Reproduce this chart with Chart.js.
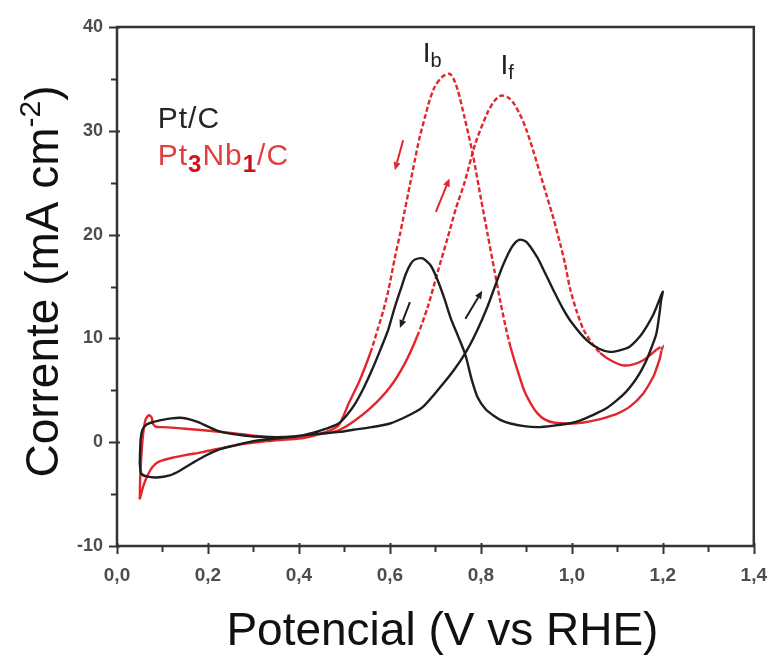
<!DOCTYPE html>
<html>
<head>
<meta charset="utf-8">
<script src="https://cdn.jsdelivr.net/npm/chart.js@4.4.1/dist/chart.umd.min.js"></script>
<style>
html,body{margin:0;padding:0;background:#fff;}
#wrap{width:777px;height:655px;}
</style>
</head>
<body>
<div id="wrap"><canvas id="c" width="777" height="655"></canvas></div>
<script>
// ---- data ----
const xTickLabels = ['0,0','0,2','0,4','0,6','0,8','1,0','1,2','1,4'];
const yTickLabels = ['-10','0','10','20','30','40'];
const seriesNames = ['Pt/C', 'Pt3Nb1/C'];

// Pt/C : potential (V vs RHE), forward then backward scan
const ptcPotential = [
 0.050,0.052,0.056,0.065,0.080,0.100,0.120,0.140,0.160,0.180,0.200,0.225,0.260,0.300,0.370,0.440,0.490,0.520,0.560,0.600,
 0.633,0.670,0.705,0.740,0.766,0.790,0.814,0.835,0.850,0.868,0.884,0.900,0.924,0.940,0.960,0.980,1.000,1.033,1.060,1.083,
 1.105,1.127,1.150,1.164,1.178,1.186,1.194,1.200,
 1.196,1.193,1.186,1.175,1.164,1.150,1.135,1.118,1.098,1.077,1.055,1.030,1.004,0.960,0.924,0.895,0.865,0.845,0.830,0.810,
 0.793,0.780,0.766,0.750,0.734,0.720,0.705,0.690,0.672,0.655,0.646,0.635,0.625,0.610,0.596,0.578,0.560,0.542,0.524,0.505,
 0.487,0.460,0.430,0.400,0.350,0.300,0.260,0.225,0.190,0.166,0.140,0.116,0.087,0.065,0.053,0.050];
const ptcCurrent = [
 -2.0,0.3,1.2,1.7,1.95,2.15,2.3,2.35,2.2,1.9,1.5,1.05,0.75,0.55,0.5,0.8,1.0,1.2,1.45,1.8,
 2.4,3.3,5.0,6.9,8.6,10.6,13.0,15.5,17.2,18.8,19.5,19.3,17.8,16.4,14.6,12.9,11.5,9.8,9.0,8.7,
 8.85,9.2,10.2,11.1,12.2,13.0,13.9,14.5,
 13.6,12.5,10.5,9.1,7.9,6.7,5.7,4.8,4.0,3.3,2.8,2.3,1.9,1.6,1.45,1.55,1.8,2.1,2.5,3.2,
 4.3,6.0,8.4,10.2,11.9,13.8,15.6,17.0,17.7,17.6,17.2,16.2,14.9,12.9,10.8,8.8,6.9,5.2,3.75,2.6,
 1.8,1.3,0.9,0.6,0.35,0.1,-0.3,-0.7,-1.4,-2.0,-2.7,-3.2,-3.4,-3.3,-3.0,-2.0];

// Pt3Nb1/C : potential (V vs RHE), forward then backward scan
const ptnbPotential = [
 0.050,0.051,0.054,0.058,0.063,0.070,0.076,0.079,0.085,0.100,0.120,0.150,0.190,0.260,0.330,0.400,0.450,0.487,0.520,0.560,
 0.600,0.633,0.660,0.683,0.705,0.727,0.745,0.764,0.788,0.814,0.830,0.845,0.860,0.873,0.890,0.900,0.915,0.930,0.945,0.960,
 0.975,0.985,0.996,1.010,1.026,1.045,1.062,1.085,1.113,1.135,1.157,1.175,1.186,1.194,1.200,
 1.197,1.193,1.186,1.179,1.157,1.127,1.100,1.076,1.050,1.026,0.996,0.960,0.940,0.924,0.910,0.895,0.880,0.865,0.855,0.843,
 0.830,0.815,0.800,0.782,0.764,0.750,0.740,0.731,0.715,0.698,0.687,0.677,0.665,0.655,0.644,0.633,0.622,0.611,0.596,0.585,
 0.574,0.560,0.545,0.530,0.510,0.487,0.460,0.410,0.370,0.330,0.260,0.188,0.150,0.122,0.100,0.087,0.078,0.072,0.065,0.058,
 0.053,0.050];
const ptnbCurrent = [
 -5.5,-3.5,-1.0,1.0,2.2,2.6,2.4,1.8,1.5,1.45,1.4,1.3,1.15,0.85,0.5,0.5,0.8,1.15,2.0,3.4,
 5.3,7.6,10.2,13.0,16.4,19.7,22.5,25.0,28.8,31.7,32.9,33.4,33.2,32.6,31.2,30.1,28.1,25.9,23.7,21.5,
 19.0,17.2,14.8,12.7,10.8,9.5,8.6,7.9,7.4,7.5,7.9,8.5,8.9,9.15,9.3,
 8.8,8.0,7.1,6.3,4.7,3.4,2.75,2.4,2.1,1.9,1.8,1.9,2.2,2.8,3.7,5.0,7.0,9.2,11.0,13.5,
 16.5,20.0,23.5,27.8,31.3,33.8,35.0,35.5,35.2,34.2,32.9,31.3,29.3,27.2,24.8,22.4,20.0,17.8,14.5,12.6,
 11.0,9.0,7.2,5.6,3.8,1.6,1.0,0.4,0.25,0.1,-0.3,-0.95,-1.25,-1.5,-1.75,-2.0,-2.4,-2.8,-3.4,-4.2,
 -5.0,-5.5];

// scan-direction arrows [x, y] in data units, and their series
const arrowSeries = [1, 1, 0, 0];
const arrowStarts = [[0.629, 29.1], [0.701, 22.2], [0.644, 13.5], [0.766, 11.9]];
const arrowEnds   = [[0.611, 26.2], [0.731, 25.4], [0.622, 11.0], [0.803, 14.6]];

// peak labels
const peakLabels = [['I','b'], ['I','f']];
const peakAnchors = [[0.672, 36.6], [0.843, 35.5]];

const BLACK = '#1e1e1e';
const RED = '#e3262b';
const FONT = '"Liberation Sans", Arial, sans-serif';

const toPts = (xs, ys) => xs.map((v, i) => ({x: v, y: ys[i]}));

function richText(ctx, parts, x, y) {
  let cx = x;
  parts.forEach(p => {
    ctx.font = p.font;
    ctx.fillStyle = p.color;
    ctx.fillText(p.t, cx, y + (p.dy || 0));
    cx += ctx.measureText(p.t).width;
  });
  return cx - x;
}
function richWidth(ctx, parts) {
  let w = 0;
  parts.forEach(p => { ctx.font = p.font; w += ctx.measureText(p.t).width; });
  return w;
}

const overlay = {
  id: 'overlay',
  afterDraw(chart) {
    const {ctx, chartArea: a, scales: {x, y}} = chart;
    ctx.save();
    // frame
    ctx.strokeStyle = '#333';
    ctx.lineWidth = 2.5;
    ctx.strokeRect(a.left, a.top, a.right - a.left, a.bottom - a.top);
    // ticks
    ctx.lineWidth = 2;
    x.ticks.forEach((t, i) => {
      const px = Math.round(x.getPixelForValue(t.value)) + 0.5;
      const major = i % 2 === 0;
      ctx.beginPath();
      ctx.moveTo(px, a.bottom - (major ? 3 : 0));
      ctx.lineTo(px, a.bottom + (major ? 8 : 6));
      ctx.stroke();
    });
    y.ticks.forEach((t, i) => {
      const py = Math.round(y.getPixelForValue(t.value)) + 0.5;
      const major = i % 2 === 0;
      ctx.beginPath();
      ctx.moveTo(a.left + (major ? 3 : 0), py);
      ctx.lineTo(a.left - (major ? 8 : 6), py);
      ctx.stroke();
    });

    // arrows
    arrowStarts.forEach((s, i) => {
      const x0 = x.getPixelForValue(s[0]), y0 = y.getPixelForValue(s[1]);
      const x1 = x.getPixelForValue(arrowEnds[i][0]), y1 = y.getPixelForValue(arrowEnds[i][1]);
      const col = arrowSeries[i] === 1 ? RED : BLACK;
      ctx.strokeStyle = col; ctx.fillStyle = col; ctx.lineWidth = 2;
      const ang = Math.atan2(y1 - y0, x1 - x0);
      const hl = 8, hw = 3.5;
      const bx = x1 - hl * Math.cos(ang), by = y1 - hl * Math.sin(ang);
      ctx.beginPath(); ctx.moveTo(x0, y0); ctx.lineTo(bx, by); ctx.stroke();
      ctx.beginPath();
      ctx.moveTo(x1, y1);
      ctx.lineTo(bx + hw * Math.sin(ang), by - hw * Math.cos(ang));
      ctx.lineTo(bx - hw * Math.sin(ang), by + hw * Math.cos(ang));
      ctx.closePath(); ctx.fill();
    });

    // peak labels
    ctx.textBaseline = 'alphabetic';
    ctx.textAlign = 'left';
    peakLabels.forEach((lab, i) => {
      const px = x.getPixelForValue(peakAnchors[i][0]);
      const py = y.getPixelForValue(peakAnchors[i][1]);
      richText(ctx, [
        {t: lab[0], font: '28px ' + FONT, color: BLACK},
        {t: lab[1], font: '20px ' + FONT, color: BLACK, dy: 5}
      ], px, py);
    });

    // legend text
    const lx = x.getPixelForValue(0.0895);
    ctx.letterSpacing = '1px';
    richText(ctx, [{t: seriesNames[0], font: '30px ' + FONT, color: '#262626'}],
      lx, y.getPixelForValue(30.3));
    richText(ctx, [
      {t: 'Pt', font: '30px ' + FONT, color: '#e2403f'},
      {t: '3', font: 'bold 24px ' + FONT, color: '#d40f1f', dy: 7},
      {t: 'Nb', font: '30px ' + FONT, color: '#e2403f'},
      {t: '1', font: 'bold 24px ' + FONT, color: '#c8101c', dy: 7},
      {t: '/C', font: '30px ' + FONT, color: '#e2403f'}
    ], lx, y.getPixelForValue(26.7));
    ctx.letterSpacing = '0px';

    // x axis title
    const xParts = [{t: 'Potencial (V vs RHE)', font: '46px ' + FONT, color: '#111'}];
    const xw = richWidth(ctx, xParts);
    richText(ctx, xParts, (a.left + a.right) / 2 + 7 - xw / 2, a.bottom + 99);

    // y axis title (rotated)
    const yParts = [
      {t: 'Corrente (mA cm', font: '46px ' + FONT, color: '#111'},
      {t: '-2', font: '30px ' + FONT, color: '#111', dy: -18},
      {t: ')', font: '46px ' + FONT, color: '#111'}
    ];
    const yw = richWidth(ctx, yParts);
    ctx.translate(a.left - 75, (a.top + a.bottom) / 2 - 5);
    ctx.rotate(-Math.PI / 2);
    richText(ctx, yParts, -yw / 2, 16);
    ctx.restore();
  }
};

const redDash = ctx => ((ctx.p0.parsed.y + ctx.p1.parsed.y) / 2 > 9 ? [5, 2.5] : undefined);

new Chart(document.getElementById('c'), {
  type: 'scatter',
  data: {
    datasets: [
      {
        label: seriesNames[0],
        data: toPts(ptcPotential, ptcCurrent),
        showLine: true, borderColor: BLACK, borderWidth: 2.4,
        pointRadius: 0, tension: 0.25, fill: false
      },
      {
        label: seriesNames[1],
        data: toPts(ptnbPotential, ptnbCurrent),
        showLine: true, borderColor: RED, borderWidth: 2.4,
        pointRadius: 0, tension: 0.25, fill: false,
        segment: {borderDash: redDash}
      }
    ]
  },
  options: {
    responsive: false,
    devicePixelRatio: 1,
    animation: false,
    layout: {padding: {top: 27, right: 19, left: 0, bottom: 0}},
    plugins: {legend: {display: false}, tooltip: {enabled: false}},
    scales: {
      x: {
        type: 'linear', min: 0, max: 1.4,
        afterFit: s => { s.height = 109; },
        border: {display: false},
        grid: {display: true, drawOnChartArea: false, drawTicks: true, tickLength: 8, tickColor: 'rgba(0,0,0,0)'},
        ticks: {
          stepSize: 0.1, autoSkip: false, maxRotation: 0, padding: 10,
          color: '#4d4d4d', font: {family: FONT, size: 19, weight: 'bold'},
          callback: (v, i) => (i % 2 === 0 ? xTickLabels[i / 2] : '')
        }
      },
      y: {
        type: 'linear', min: -10, max: 40,
        afterFit: s => { s.width = 117; },
        border: {display: false},
        grid: {display: true, drawOnChartArea: false, drawTicks: true, tickLength: 8, tickColor: 'rgba(0,0,0,0)'},
        ticks: {
          stepSize: 5, autoSkip: false, padding: 6,
          color: '#4d4d4d', font: {family: FONT, size: 18, weight: 'bold'},
          callback: (v, i) => (i % 2 === 0 ? yTickLabels[i / 2] : '')
        }
      }
    }
  },
  plugins: [overlay]
});
</script>
</body>
</html>
